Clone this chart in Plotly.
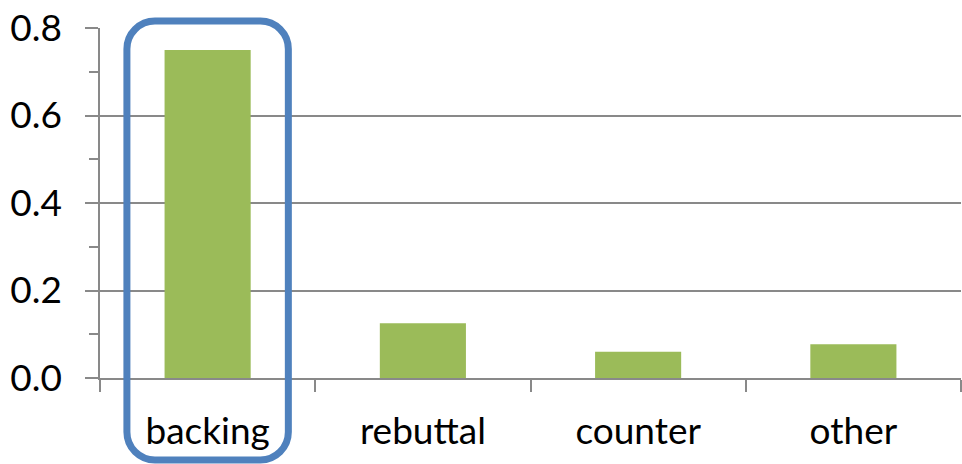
import plotly.graph_objects as go

# Share of each category
categories = ["backing", "rebuttal", "counter", "other"]
values = [0.75, 0.125, 0.06, 0.077]

y_ticks = [0.0, 0.2, 0.4, 0.6, 0.8]

W, H = 962, 464
M_L, M_R, M_T, M_B = 100, 1, 28, 86
plot_w = W - M_L - M_R
plot_h = H - M_T - M_B

FONT = "Lato, Calibri, Carlito, sans-serif"
GRID = "#898989"
BAR = "#9BBB59"
HILITE = "#4F81BD"

fig = go.Figure(
    go.Bar(
        x=categories,
        y=values,
        marker=dict(color=BAR, line=dict(width=0)),
        width=0.4,
        hoverinfo="skip",
    )
)

# Rounded highlight box around the first category, in axis-domain units
n = len(categories)
idx = categories.index("backing")
cx = (idx + 0.5) / n
half = 0.375 / n
x0, x1 = cx - half, cx + half
y0, y1 = -82 / plot_h, 1 + 7 / plot_h
r = 28
rx, ry = r / plot_w, r / plot_h
k = 0.5523
path = (
    f"M {x0 + rx},{y1} L {x1 - rx},{y1} "
    f"C {x1 - rx + k * rx},{y1} {x1},{y1 - ry + k * ry} {x1},{y1 - ry} "
    f"L {x1},{y0 + ry} "
    f"C {x1},{y0 + ry - k * ry} {x1 - rx + k * rx},{y0} {x1 - rx},{y0} "
    f"L {x0 + rx},{y0} "
    f"C {x0 + rx - k * rx},{y0} {x0},{y0 + ry - k * ry} {x0},{y0 + ry} "
    f"L {x0},{y1 - ry} "
    f"C {x0},{y1 - ry + k * ry} {x0 + rx - k * rx},{y1} {x0 + rx},{y1} Z"
)
fig.add_shape(
    type="path",
    path=path,
    xref="x domain",
    yref="y domain",
    line=dict(color=HILITE, width=7),
    fillcolor="rgba(0,0,0,0)",
    layer="above",
)

fig.update_layout(
    width=W,
    height=H,
    margin=dict(l=M_L, r=M_R, t=M_T, b=M_B),
    paper_bgcolor="white",
    plot_bgcolor="white",
    showlegend=False,
    font=dict(family=FONT, size=37, color="black"),
    xaxis=dict(
        type="category",
        showline=True,
        linecolor=GRID,
        linewidth=1.5,
        ticks="outside",
        ticklen=12,
        tickwidth=1.5,
        tickcolor=GRID,
        tickson="boundaries",
        showgrid=False,
        ticklabelstandoff=20,
        tickfont=dict(size=37),
    ),
    yaxis=dict(
        range=[0, 0.8],
        tickvals=y_ticks,
        tickformat=".1f",
        showgrid=True,
        gridcolor=GRID,
        gridwidth=1.5,
        zeroline=False,
        showline=True,
        linecolor=GRID,
        linewidth=1.5,
        ticks="outside",
        ticklen=13,
        tickwidth=1.5,
        tickcolor=GRID,
        minor=dict(
            tickvals=[0.1, 0.3, 0.5, 0.7],
            ticks="outside",
            ticklen=9,
            tickwidth=1.5,
            tickcolor=GRID,
            showgrid=False,
        ),
        ticklabelstandoff=16,
        tickfont=dict(size=37),
    ),
)

fig.write_html("out.html")
